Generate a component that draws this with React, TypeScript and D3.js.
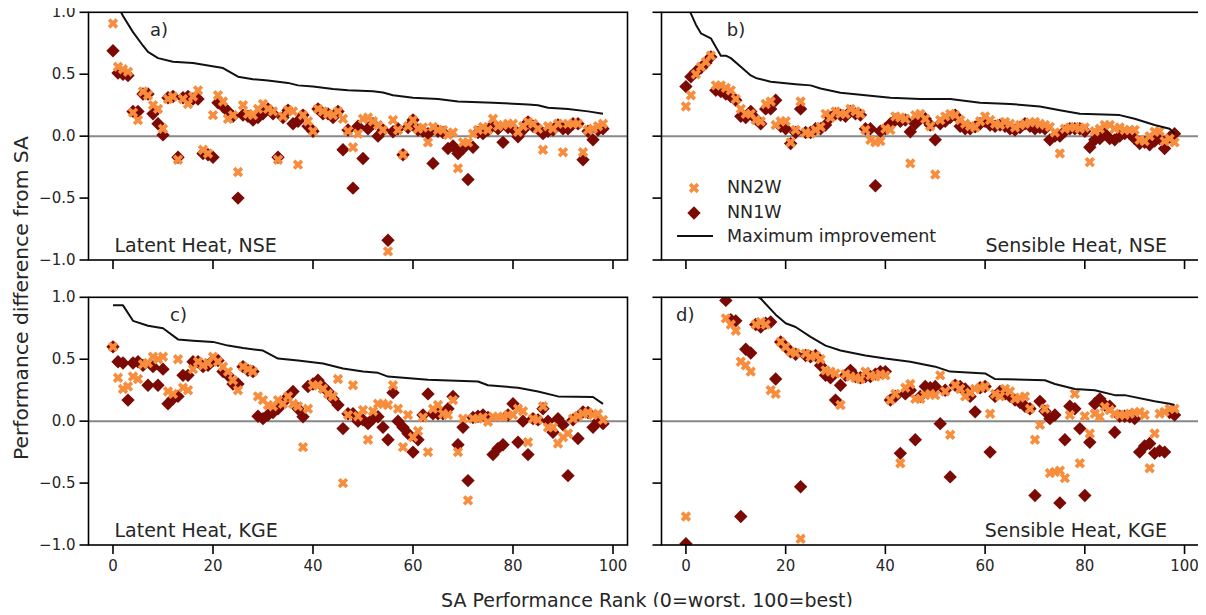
import React from "react";
import * as d3 from "d3";

// ---------- data ----------
const ranks = d3.range(99); // SA performance rank categories 0..98
const xTicks = [0, 20, 40, 60, 80, 100];
const yTicks = [-1, -0.5, 0, 0.5, 1];

const nn2wA = [
  0.91, 0.56, 0.54, 0.52, 0.19, 0.13, 0.36, 0.33, 0.25, 0.22,
  0.06, 0.30, 0.32, -0.19, 0.30, 0.26, 0.32, 0.37, -0.11, -0.14,
  0.17, 0.33, 0.28, 0.14, 0.17, -0.29, 0.25, 0.18, 0.17, 0.22,
  0.26, 0.22, 0.20, -0.19, 0.16, 0.21, 0.20, -0.23, 0.17, 0.12,
  0.04, 0.22, 0.20, 0.18, 0.17, 0.20, 0.14, 0.04, -0.09, 0.02,
  0.14, 0.15, 0.12, 0.09, 0.05, -0.93, 0.13, 0.05, -0.15, 0.08,
  0.13, 0.06, 0.07, -0.05, 0.075, 0.05, 0.05, 0.01, 0.03, -0.26,
  -0.05, -0.05, 0.02, 0.05, 0.075, 0.05, 0.14, 0.08, 0.09, 0.10,
  0.10, 0.035, 0.08, 0.115, 0.10, 0.06, -0.11, 0.08, 0.06, 0.10,
  -0.13, 0.10, 0.10, 0.10, -0.13, 0.05, 0.06, 0.08, 0.10,
];
const nn1wA = [
  0.69, 0.51, 0.50, 0.49, 0.20, 0.20, 0.34, 0.34, 0.18, 0.10,
  0.01, 0.31, 0.32, -0.17, 0.31, 0.32, 0.30, 0.30, -0.14, -0.15,
  -0.17, 0.27, 0.24, 0.20, 0.16, -0.50, 0.17, 0.16, 0.13, 0.15,
  0.18, 0.22, 0.18, -0.17, 0.15, 0.21, 0.10, 0.12, 0.17, 0.08,
  0.04, 0.22, 0.18, 0.18, 0.15, 0.20, -0.11, 0.05, -0.42, 0.08,
  -0.18, 0.06, 0.10, 0.00, 0.05, -0.84, 0.035, 0.06, -0.15, 0.07,
  0.13, 0.05, 0.04, 0.02, -0.22, 0.04, 0.03, -0.10, -0.08, -0.14,
  -0.10, -0.35, -0.09, 0.03, 0.02, 0.05, 0.09, 0.06, -0.05, 0.07,
  0.06, -0.005, 0.05, 0.115, 0.08, 0.06, 0.02, 0.04, 0.05, 0.09,
  0.06, 0.06, 0.10, 0.10, -0.19, 0.04, -0.03, 0.05, 0.06,
];
const maxA: [number, number][] = [
  [0, 1.15], [1, 1.05], [2, 0.97], [4, 0.84], [6, 0.73], [7, 0.68], [9, 0.63], [12, 0.60],
  [16, 0.59], [19, 0.57], [22, 0.55], [25, 0.48], [28, 0.46], [31, 0.45], [35, 0.43], [37, 0.41],
  [40, 0.40], [44, 0.38], [47, 0.37], [52, 0.363], [54, 0.352], [56, 0.33], [60, 0.31], [65, 0.30],
  [69, 0.28], [76, 0.27], [83, 0.255], [85, 0.25], [87, 0.23], [91, 0.22], [95, 0.20], [98, 0.18],
];

const nn2wB = [
  0.24, 0.33, 0.50, 0.56, 0.60, 0.65, 0.41, 0.41, 0.39, 0.37,
  0.30, 0.22, 0.18, 0.18, 0.13, 0.12, 0.26, 0.28, 0.09, 0.12,
  0.12, -0.05, 0.05, 0.28, 0.03, 0.02, 0.05, 0.075, 0.18, 0.15,
  0.20, 0.18, 0.18, 0.22, 0.20, 0.18, 0.05, -0.03, -0.05, -0.04,
  0.06, 0.05, 0.16, 0.15, 0.14, -0.22, 0.17, 0.18, 0.14, 0.08,
  -0.31, 0.13, 0.16, 0.18, 0.17, 0.13, 0.10, 0.08, 0.07, 0.12,
  0.16, 0.13, 0.10, 0.09, 0.115, 0.10, 0.07, 0.09, 0.10, 0.11,
  0.115, 0.10, 0.09, 0.075, 0.03, -0.14, 0.06, 0.07, 0.075, 0.06,
  0.07, -0.21, 0.04, 0.06, 0.09, 0.09, 0.06, 0.07, 0.05, 0.05,
  0.05, -0.03, -0.04, 0.0, 0.035, 0.04, -0.04, -0.02, -0.05,
];
const nn1wB = [
  0.40, 0.48, 0.52, 0.55, 0.59, 0.64, 0.37, 0.36, 0.34, 0.32,
  0.29, 0.16, 0.15, 0.20, 0.14, 0.10, 0.22, 0.22, 0.29, 0.08,
  0.06, -0.06, 0.03, 0.22, 0.03, 0.03, 0.06, 0.06, 0.09, 0.15,
  0.18, 0.17, 0.16, 0.20, 0.18, 0.17, 0.06, 0.06, -0.40, 0.04,
  0.06, 0.10, 0.13, 0.12, 0.13, 0.035, 0.10, 0.14, 0.14, 0.09,
  -0.03, 0.10, 0.12, 0.15, 0.17, 0.08, 0.06, 0.06, 0.075, 0.10,
  0.12, 0.09, 0.08, 0.09, 0.08, 0.06, 0.05, 0.07, 0.10, 0.08,
  0.06, 0.07, 0.06, -0.03, 0.0, 0.0, 0.04, 0.06, 0.06, 0.06,
  0.04, -0.09, -0.03, -0.02, 0.02, -0.02, -0.03, 0.0, 0.02, 0.02,
  -0.02, -0.06, -0.05, -0.07, -0.04, -0.02, -0.10, -0.01, 0.02,
];
const maxB: [number, number][] = [
  [0, 1.06], [1, 0.99], [2, 0.90], [3, 0.83], [4, 0.81], [5, 0.79], [6, 0.72], [7, 0.65],
  [8, 0.65], [9, 0.63], [11, 0.56], [13, 0.49], [14, 0.47], [17, 0.44], [22, 0.42], [25, 0.41],
  [27, 0.385], [31, 0.35], [36, 0.33], [41, 0.31], [47, 0.30], [53, 0.30], [59, 0.27], [65, 0.26],
  [71, 0.24], [75, 0.21], [79, 0.18], [87, 0.17], [90, 0.14], [94, 0.09], [97, 0.06], [98, 0.02],
];

const nn2wC = [
  0.60, 0.35, 0.26, 0.28, 0.36, 0.34, 0.46, 0.47, 0.52, 0.50,
  0.52, 0.24, 0.22, 0.50, 0.27, 0.25, 0.42, 0.48, 0.45, 0.47,
  0.52, 0.48, 0.44, 0.40, 0.33, 0.25, 0.44, 0.42, 0.40, 0.20,
  0.17, 0.13, 0.12, 0.17, 0.14, 0.20, 0.14, 0.12, -0.21, 0.10,
  0.29, 0.29, 0.26, 0.22, 0.20, 0.34, -0.50, 0.05, 0.29, 0.04,
  0.09, -0.15, 0.08, 0.14, 0.14, 0.13, 0.29, 0.10, -0.21, 0.05,
  -0.13, -0.08, 0.03, -0.25, 0.10, 0.13, 0.06, 0.05, 0.17, -0.25,
  0.02, -0.64, 0.02, 0.02, 0.03, -0.005, 0.035, 0.035, 0.035, 0.05,
  0.05, 0.10, 0.08, -0.17, 0.02, 0.01, 0.12, -0.05, -0.05, -0.18,
  -0.13, -0.10, 0.02, 0.04, 0.06, 0.07, 0.05, 0.06, 0.01,
];
const nn1wC = [
  0.60, 0.48, 0.47, 0.17, 0.47, 0.48, 0.45, 0.29, 0.44, 0.29,
  0.42, 0.14, 0.18, 0.20, 0.37, 0.37, 0.48, 0.48, 0.44, 0.45,
  0.49, 0.49, 0.40, 0.37, 0.30, 0.30, 0.44, 0.41, 0.40, 0.04,
  0.02, 0.05, 0.07, 0.10, 0.15, 0.20, 0.24, 0.10, 0.035, 0.28,
  0.30, 0.33, 0.28, 0.24, 0.18, 0.13, -0.06, 0.06, 0.06, 0.00,
  0.01, -0.02, 0.02, 0.035, -0.05, -0.15, 0.23, 0.00, -0.05, -0.10,
  -0.25, -0.15, 0.05, 0.22, 0.06, 0.06, 0.06, 0.10, 0.20, -0.19,
  -0.05, -0.48, 0.03, 0.04, 0.05, 0.03, -0.27, -0.22, -0.19, 0.05,
  0.14, -0.17, 0.0, -0.27, 0.02, 0.01, 0.10, 0.0, -0.09, 0.02,
  -0.03, -0.44, 0.01, -0.14, 0.075, 0.07, -0.05, 0.0, -0.02,
];
const maxC: [number, number][] = [
  [0, 0.935], [2, 0.935], [4, 0.81], [7, 0.77], [10, 0.75], [13, 0.66], [16, 0.65], [20, 0.64],
  [23, 0.61], [26, 0.59], [30, 0.57], [33, 0.505], [37, 0.49], [42, 0.465], [46, 0.425], [50, 0.40],
  [53, 0.39], [55, 0.36], [63, 0.335], [73, 0.32], [75, 0.29], [81, 0.27], [85, 0.24], [89, 0.20],
  [96, 0.195], [98, 0.14],
];

const nn2wD = [
  -0.77, 1.3, 1.25, 1.2, 1.15, 1.1, 1.1, 1.05, 0.83, 0.78,
  0.73, 0.48, 0.45, 0.40, 0.78, 0.80, 0.78, 0.25, 0.22, 0.64,
  0.60, 0.56, 0.55, -0.95, 0.545, 0.52, 0.53, 0.50, 0.41, 0.40,
  0.385, 0.13, 0.38, 0.36, 0.35, 0.34, 0.40, 0.37, 0.36, 0.38,
  0.37, 0.17, 0.22, -0.34, 0.27, 0.30, 0.18, 0.18, 0.21, 0.22,
  0.21, 0.37, 0.24, -0.11, 0.29, 0.26, 0.20, 0.23, 0.26, 0.27,
  0.28, 0.06, 0.22, 0.20, 0.26, 0.24, 0.18, 0.19, 0.20, 0.10,
  -0.15, -0.03, 0.10, -0.42, -0.41, -0.40, -0.46, 0.05, 0.22, -0.34,
  0.04, -0.10, 0.06, 0.035, 0.115, 0.09, 0.06, 0.05, 0.05, 0.06,
  0.07, 0.075, 0.05, -0.38, -0.10, 0.06, 0.075, 0.10, 0.10,
];
const nn1wD = [
  -0.99, 1.3, 1.25, 1.2, 1.15, 1.1, 1.1, 1.05, 0.975, 0.82,
  0.81, -0.77, 0.58, 0.55, 0.78, 0.76, 0.79, 0.80, 0.34, 0.64,
  0.60, 0.56, 0.54, -0.53, 0.53, 0.52, 0.53, 0.45, 0.37, 0.35,
  0.17, 0.29, 0.37, 0.41, 0.36, 0.35, 0.36, 0.36, 0.38, 0.40,
  0.40, 0.17, 0.20, -0.26, 0.22, 0.25, -0.15, 0.20, 0.28, 0.27,
  0.28, -0.02, 0.25, -0.45, 0.29, 0.28, 0.26, 0.20, 0.075, 0.27,
  0.28, -0.25, 0.20, 0.24, 0.22, 0.20, 0.17, 0.15, 0.12, 0.10,
  -0.60, 0.16, 0.08, 0.02, 0.05, -0.66, -0.15, 0.12, 0.10, -0.06,
  -0.60, -0.17, 0.14, 0.18, 0.13, 0.12, -0.09, 0.04, 0.04, 0.035,
  0.02, -0.25, -0.20, -0.18, -0.26, -0.24, -0.25, 0.07, 0.05,
];
const maxD: [number, number][] = [
  [0, 1.5], [5, 1.25], [10, 1.1], [13, 1.04], [15, 0.99], [18, 0.86], [20, 0.79], [22, 0.76],
  [25, 0.68], [28, 0.61], [31, 0.57], [36, 0.53], [40, 0.505], [45, 0.48], [50, 0.44], [53, 0.40],
  [60, 0.385], [62, 0.34], [72, 0.33], [74, 0.30], [78, 0.26], [82, 0.25], [86, 0.21], [88, 0.21],
  [94, 0.16], [97, 0.14], [98, 0.13],
];

const seriesNames = ["NN2W", "NN1W", "Maximum improvement"];
const panelLetters = ["a)", "b)", "c)", "d)"];
const panelTitles = ["Latent Heat, NSE", "Sensible Heat, NSE", "Latent Heat, KGE", "Sensible Heat, KGE"];

// ---------- style ----------
const ORANGE = "#f88d3d";
const DARKRED = "#7b0a04";
const FONT = "DejaVu Sans, Verdana, sans-serif";
const TEXT = "#262626";

const COLS = [
  { x0: 88.5, x1: 627.5 },
  { x0: 661.5, x1: 1199 },
];
const ROWS = [
  { y0: 12.3, y1: 260 },
  { y0: 297.3, y1: 545 },
];

const panels = [
  { n2: nn2wA, n1: nn1wA, mx: maxA, col: 0, row: 0, letterX: 7.4, titleRight: false },
  { n2: nn2wB, n1: nn1wB, mx: maxB, col: 1, row: 0, letterX: 8.2, titleRight: true },
  { n2: nn2wC, n1: nn1wC, mx: maxC, col: 0, row: 1, letterX: 11.4, titleRight: false },
  { n2: nn2wD, n1: nn1wD, mx: maxD, col: 1, row: 1, letterX: -2.0, titleRight: true },
];

// marker paths
const xMarker = (() => {
  const a = 5.5, t = 1.85;
  const pts = [
    [-t, -a], [t, -a], [t, -t], [a, -t], [a, t], [t, t],
    [t, a], [-t, a], [-t, t], [-a, t], [-a, -t], [-t, -t],
  ].map(([x, y]) => [(x - y) / Math.SQRT2, (x + y) / Math.SQRT2]);
  return "M" + pts.map((p) => p[0].toFixed(2) + "," + p[1].toFixed(2)).join("L") + "Z";
})();
const dMarker = (() => {
  const h = 6.7;
  return `M0,${-h}L${h},0L0,${h}L${-h},0Z`;
})();

function Panel({ p, idx }: { p: any; idx: number }) {
  const c = COLS[p.col];
  const r = ROWS[p.row];
  const x = d3.scaleLinear().domain([-4.9, 102.9]).range([c.x0, c.x1]);
  const y = d3.scaleLinear().domain([-1, 1]).range([r.y1, r.y0]);
  const line = d3
    .line<[number, number]>()
    .x((d) => x(d[0]))
    .y((d) => y(d[1]));
  const clipId = `clip${idx}`;
  const showXLabels = p.row === 1;
  const showYLabels = p.col === 0;
  const tickLen = 9;
  return (
    <g>
      <defs>
        <clipPath id={clipId}>
          <rect x={c.x0} y={r.y0} width={c.x1 - c.x0} height={r.y1 - r.y0} />
        </clipPath>
      </defs>
      <g clipPath={`url(#${clipId})`}>
        <line x1={c.x0} x2={c.x1} y1={y(0)} y2={y(0)} stroke="#888888" strokeWidth={2} />
        {ranks.map((i) => (
          <path key={"d" + i} d={dMarker} transform={`translate(${x(i)},${y(p.n1[i])})`} fill={DARKRED} />
        ))}
        {ranks.map((i) => (
          <path key={"x" + i} d={xMarker} transform={`translate(${x(i)},${y(p.n2[i])})`} fill={ORANGE} />
        ))}
        <path d={line(p.mx) || ""} fill="none" stroke="#111" strokeWidth={2} strokeLinejoin="round" />
      </g>
      <rect x={c.x0} y={r.y0} width={c.x1 - c.x0} height={r.y1 - r.y0} fill="none" stroke="#000" strokeWidth={1.6} />
      {xTicks.map((t) => (
        <g key={"xt" + t}>
          <line x1={x(t)} x2={x(t)} y1={r.y1} y2={r.y1 + tickLen} stroke="#000" strokeWidth={1.6} />
          {showXLabels && (
            <text x={x(t)} y={r.y1 + 21} textAnchor="middle" dominantBaseline="central" fontSize={15} fontFamily={FONT} fill={TEXT}>
              {t}
            </text>
          )}
        </g>
      ))}
      {yTicks.map((t) => (
        <g key={"yt" + t}>
          <line x1={c.x0 - tickLen} x2={c.x0} y1={y(t)} y2={y(t)} stroke="#000" strokeWidth={1.6} />
          {showYLabels && (
            <text x={c.x0 - tickLen - 4} y={y(t)} textAnchor="end" dominantBaseline="central" fontSize={15} fontFamily={FONT} fill={TEXT}>
              {d3.format(".1f")(t).replace("-", "\u2212")}
            </text>
          )}
        </g>
      ))}
      <text x={x(p.letterX)} y={y(0.86)} dominantBaseline="central" fontSize={18} fontFamily={FONT} fill={TEXT}>
        {panelLetters[idx]}
      </text>
      <text
        x={p.titleRight ? c.x1 - 32 : c.x0 + 26}
        y={r.y1 - 15}
        textAnchor={p.titleRight ? "end" : "start"}
        dominantBaseline="central"
        fontSize={19}
        fontFamily={FONT}
        fill={TEXT}
      >
        {panelTitles[idx]}
      </text>
    </g>
  );
}

export default function App() {
  const lx = 694;
  const tx = 727;
  return (
    <svg width={1206} height={615} style={{ display: "block", margin: "-8px", background: "#fff" }}>
      <rect x={0} y={0} width={1206} height={615} fill="#fff" />
      {panels.map((p, i) => (
        <Panel key={i} p={p} idx={i} />
      ))}
      {/* legend in panel b */}
      <g fontFamily={FONT} fontSize={17.5} fill={TEXT}>
        <path d={xMarker} transform={`translate(${lx},188)`} fill={ORANGE} />
        <text x={tx} y={187} dominantBaseline="central">{seriesNames[0]}</text>
        <path d={dMarker} transform={`translate(${lx},213)`} fill={DARKRED} />
        <text x={tx} y={212} dominantBaseline="central">{seriesNames[1]}</text>
        <line x1={677} x2={713} y1={236} y2={236} stroke="#111" strokeWidth={2} />
        <text x={tx} y={236} dominantBaseline="central">{seriesNames[2]}</text>
      </g>
      <text x={647} y={600} textAnchor="middle" dominantBaseline="central" fontSize={19} fontFamily={FONT} fill={TEXT}>
        SA Performance Rank (0=worst, 100=best)
      </text>
      <text
        transform="translate(21,298) rotate(-90)"
        textAnchor="middle"
        dominantBaseline="central"
        fontSize={20.3}
        fontFamily={FONT}
        fill={TEXT}
      >
        Performance difference from SA
      </text>
    </svg>
  );
}
